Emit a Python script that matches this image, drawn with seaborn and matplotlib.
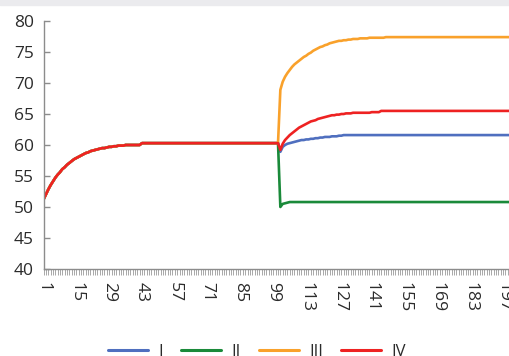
import numpy as np
import pandas as pd
import matplotlib
matplotlib.use("Agg")
import matplotlib.pyplot as plt
from matplotlib.patches import Rectangle
from matplotlib.ticker import MultipleLocator, FixedLocator
import seaborn as sns

# shared path up to period 101
base = [51.2, 52.0, 52.8, 53.5, 54.1, 54.7, 55.2, 55.6, 56.1, 56.4,
        56.8, 57.1, 57.4, 57.7, 57.9, 58.1, 58.3, 58.5, 58.7, 58.8,
        59.0, 59.1, 59.2, 59.3, 59.4, 59.5, 59.5, 59.6, 59.7, 59.7,
        59.8, 59.8, 59.9, 59.9, 59.9, 60.0, 60.0, 60.0, 60.0, 60.0,
        60.0, 60.0] + [60.3] * 59

# periods 102..200 after the shock
post_i = [58.9, 59.7, 60.0, 60.2, 60.3, 60.4, 60.5, 60.6, 60.7, 60.8,
          60.8, 60.9, 60.9, 61.0, 61.0, 61.1, 61.1, 61.2, 61.2, 61.3,
          61.3, 61.3, 61.4, 61.4, 61.4, 61.5, 61.5] + [61.6] * 72
post_ii = [50.0, 50.5, 50.6, 50.7] + [50.8] * 95
post_iii = [68.9, 70.2, 71.0, 71.6, 72.1, 72.6, 73.0, 73.3, 73.6, 73.9,
            74.2, 74.4, 74.7, 74.9, 75.2, 75.4, 75.6, 75.8, 75.9, 76.1,
            76.2, 76.4, 76.5, 76.6, 76.7, 76.8, 76.8, 76.9, 76.9, 77.0,
            77.0, 77.1, 77.1, 77.1, 77.2, 77.2, 77.2, 77.2, 77.3] + [77.3] * 6 + [77.4] * 54
post_iv = [59.2, 60.2, 60.8, 61.2, 61.6, 61.9, 62.2, 62.5, 62.8, 63.0,
           63.2, 63.4, 63.6, 63.8, 63.9, 64.0, 64.2, 64.3, 64.4, 64.5,
           64.6, 64.7, 64.8, 64.8, 64.9, 64.9, 65.0, 65.0, 65.1, 65.1,
           65.1, 65.2, 65.2, 65.2, 65.2, 65.2, 65.2, 65.2, 65.2, 65.3,
           65.3, 65.3, 65.3] + [65.5] * 56

series = ['I', 'II', 'III', 'IV']
colors = ['#4f6fbf', '#1a8a3a', '#f9a12b', '#ee2222']
periods = np.arange(1, 201)

frames = []
for name, post in zip(series, [post_i, post_ii, post_iii, post_iv]):
    frames.append(pd.DataFrame({'period': periods, 'value': base + post, 'series': name}))
df = pd.concat(frames, ignore_index=True)

sns.set_style('white')
plt.rcParams['font.family'] = ['Open Sans', 'DejaVu Sans']

fig = plt.figure(figsize=(5.09, 3.56), dpi=100)
ax = fig.add_axes([43.5 / 509, 1 - 269 / 356, 1 - 43.5 / 509, (269 - 21) / 356])
fig.patches.append(Rectangle((0, 1 - 4.5 / 356), 1, 4.5 / 356,
                             transform=fig.transFigure, color='#ebebee', zorder=0))

sns.lineplot(data=df, x='period', y='value', hue='series', palette=colors,
             estimator=None, linewidth=1.9, ax=ax, legend=False)

ax.set_xlim(1, 199.5)
ax.set_ylim(40, 80)
ax.yaxis.set_major_locator(MultipleLocator(5))
ax.xaxis.set_major_locator(FixedLocator(np.arange(1, 201, 14)))
ax.xaxis.set_minor_locator(MultipleLocator(1))
ax.set_xlabel('')
ax.set_ylabel('')

for s in ['top', 'right']:
    ax.spines[s].set_visible(False)
for s in ['left', 'bottom']:
    ax.spines[s].set_color('#8c8c8c')
    ax.spines[s].set_linewidth(1.0)

ax.tick_params(axis='y', direction='in', length=4.5, width=1.0, color='#8c8c8c',
               labelsize=12.5, labelcolor='#2b2b2b', pad=7, left=True)
ax.tick_params(axis='x', which='both', direction='out', length=4.5, width=0.6,
               color='#9a9a9a', bottom=True)
ax.tick_params(axis='x', which='major', labelsize=12.6, labelcolor='#2b2b2b',
               labelrotation=270, pad=5)

handles = [plt.Line2D([], [], color=c, linewidth=2.2) for c in colors]
fig.legend(handles, series, loc='center', bbox_to_anchor=(0.505, 0.012),
           ncol=4, frameon=False, fontsize=12, handlelength=2.4,
           handletextpad=0.6, columnspacing=1.1, labelcolor='#2b2b2b')

fig.savefig('out.png', dpi=100)
